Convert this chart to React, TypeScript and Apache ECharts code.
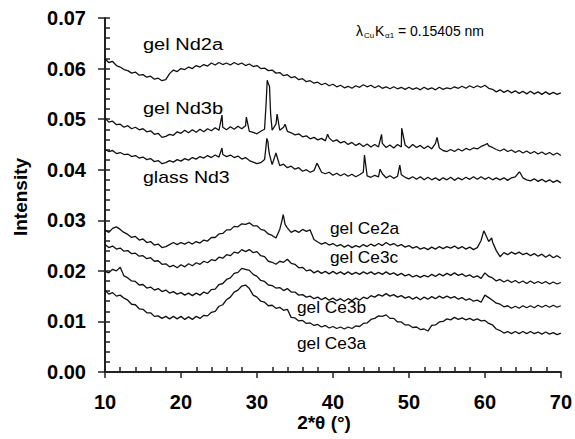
import React, { useEffect, useRef } from "react";
import * as echarts from "echarts";

const THETA_START = 10;
const THETA_STEP = 0.5;

const ND2A = [
  0.0619, 0.0612, 0.0614, 0.0606, 0.0603, 0.0598, 0.0596, 0.0591, 0.0593, 0.0587,
  0.0588, 0.0583, 0.0585, 0.0579, 0.0581, 0.0576, 0.0578, 0.0590, 0.0597, 0.0594,
  0.0600, 0.0598, 0.0603, 0.0600, 0.0606, 0.0603, 0.0608, 0.0605, 0.0611, 0.0607,
  0.0612, 0.0608, 0.0611, 0.0607, 0.0612, 0.0608, 0.0611, 0.0606, 0.0609, 0.0604,
  0.0606, 0.0600, 0.0601, 0.0596, 0.0597, 0.0591, 0.0592, 0.0586, 0.0588, 0.0582,
  0.0584, 0.0578, 0.0580, 0.0574, 0.0576, 0.0571, 0.0573, 0.0568, 0.0571, 0.0566,
  0.0569, 0.0564, 0.0567, 0.0562, 0.0565, 0.0561, 0.0566, 0.0563, 0.0568, 0.0564,
  0.0567, 0.0562, 0.0566, 0.0561, 0.0564, 0.0560, 0.0564, 0.0560, 0.0563, 0.0559,
  0.0563, 0.0559, 0.0562, 0.0558, 0.0563, 0.0559, 0.0562, 0.0558, 0.0563, 0.0559,
  0.0562, 0.0560, 0.0564, 0.0561, 0.0565, 0.0561, 0.0566, 0.0562, 0.0566, 0.0563,
  0.0567, 0.0561, 0.0559, 0.0554, 0.0558, 0.0553, 0.0557, 0.0552, 0.0556, 0.0551,
  0.0555, 0.0550, 0.0555, 0.0550, 0.0554, 0.0549, 0.0554, 0.0549, 0.0553, 0.0549,
  0.0552,
];

const ND3B = [
  0.0502, 0.0494, 0.0496, 0.0489, 0.0490, 0.0484, 0.0487, 0.0481, 0.0484, 0.0479,
  0.0481, 0.0475, 0.0477, 0.0470, 0.0472, 0.0464, 0.0466, 0.0470, 0.0468, 0.0475,
  0.0472, 0.0478, 0.0473, 0.0479, 0.0474, 0.0480, 0.0475, 0.0481, 0.0477, 0.0483,
  0.0478, 0.0484, 0.0479, 0.0485, 0.0480, 0.0486, 0.0481, 0.0487, 0.0476, 0.0474,
  0.0471, 0.0476, 0.0480, 0.0570, 0.0478, 0.0490, 0.0478, 0.0484, 0.0476, 0.0473,
  0.0469, 0.0471, 0.0465, 0.0467, 0.0461, 0.0464, 0.0459, 0.0462, 0.0457, 0.0463,
  0.0456, 0.0459, 0.0453, 0.0456, 0.0450, 0.0454, 0.0448, 0.0452, 0.0446, 0.0451,
  0.0445, 0.0450, 0.0445, 0.0452, 0.0444, 0.0449, 0.0443, 0.0450, 0.0445, 0.0449,
  0.0443, 0.0450, 0.0444, 0.0448, 0.0442, 0.0447, 0.0441, 0.0452, 0.0443, 0.0438,
  0.0436, 0.0440, 0.0436, 0.0441, 0.0437, 0.0442, 0.0439, 0.0443, 0.0441, 0.0446,
  0.0449, 0.0447, 0.0444, 0.0440, 0.0437, 0.0441, 0.0436, 0.0439, 0.0434, 0.0438,
  0.0433, 0.0437, 0.0432, 0.0436, 0.0431, 0.0435, 0.0430, 0.0434, 0.0429, 0.0433,
  0.0428,
];
const ND3B_PEAKS = [
  [25.4, 0.0508], [28.6, 0.0504], [31.2, 0.0530], [31.35, 0.0577], [31.65, 0.0565],
  [31.8, 0.051], [32.65, 0.051], [33.7, 0.049], [39.3, 0.047], [46.4, 0.047],
  [49.05, 0.0482], [53.7, 0.0464], [60.3, 0.0452],
];

const GLASS_ND3 = [
  0.0440, 0.0436, 0.0438, 0.0432, 0.0434, 0.0430, 0.0431, 0.0426, 0.0428, 0.0423,
  0.0425, 0.0420, 0.0422, 0.0416, 0.0418, 0.0412, 0.0414, 0.0418, 0.0415, 0.0420,
  0.0417, 0.0422, 0.0419, 0.0424, 0.0421, 0.0426, 0.0423, 0.0428, 0.0424, 0.0429,
  0.0425, 0.0430, 0.0426, 0.0429, 0.0424, 0.0427, 0.0421, 0.0424, 0.0418, 0.0415,
  0.0412, 0.0414, 0.0420, 0.0445, 0.0410, 0.0433, 0.0408, 0.0411, 0.0404, 0.0407,
  0.0401, 0.0404, 0.0397, 0.0400, 0.0395, 0.0398, 0.0410, 0.0395, 0.0392, 0.0395,
  0.0389, 0.0393, 0.0388, 0.0392, 0.0387, 0.0391, 0.0386, 0.0390, 0.0395, 0.0388,
  0.0385, 0.0389, 0.0386, 0.0392, 0.0384, 0.0388, 0.0383, 0.0387, 0.0390, 0.0385,
  0.0382, 0.0386, 0.0381, 0.0386, 0.0380, 0.0385, 0.0380, 0.0384, 0.0379, 0.0384,
  0.0380, 0.0385, 0.0379, 0.0384, 0.0380, 0.0385, 0.0381, 0.0386, 0.0381, 0.0386,
  0.0381, 0.0385, 0.0380, 0.0384, 0.0380, 0.0384, 0.0379, 0.0384, 0.0386, 0.0395,
  0.0384, 0.0380, 0.0378, 0.0382, 0.0377, 0.0381, 0.0376, 0.0380, 0.0375, 0.0379,
  0.0374,
];
const GLASS_ND3_PEAKS = [
  [25.4, 0.0443], [31.15, 0.044], [31.3, 0.0462], [31.45, 0.0455], [31.65, 0.043],
  [37.9, 0.0413], [44.15, 0.0429], [46.2, 0.0401], [48.8, 0.0409], [64.6, 0.0395],
];

const CE2A = [
  0.0281, 0.0276, 0.0284, 0.0287, 0.0282, 0.0276, 0.0272, 0.0266, 0.0268, 0.0261,
  0.0263, 0.0256, 0.0258, 0.0251, 0.0253, 0.0246, 0.0248, 0.0252, 0.0256, 0.0252,
  0.0256, 0.0253, 0.0257, 0.0253, 0.0258, 0.0255, 0.0261, 0.0259, 0.0266, 0.0266,
  0.0273, 0.0274, 0.0281, 0.0281, 0.0288, 0.0287, 0.0293, 0.0292, 0.0295, 0.0289,
  0.0289, 0.0282, 0.0280, 0.0273, 0.0270, 0.0265, 0.0282, 0.0308, 0.0285, 0.0276,
  0.0280, 0.0276, 0.0282, 0.0278, 0.0281, 0.0262, 0.0257, 0.0253, 0.0256, 0.0251,
  0.0254, 0.0249, 0.0252, 0.0247, 0.0251, 0.0246, 0.0250, 0.0247, 0.0252, 0.0248,
  0.0253, 0.0249, 0.0254, 0.0250, 0.0256, 0.0251, 0.0254, 0.0249, 0.0252, 0.0247,
  0.0250, 0.0245, 0.0248, 0.0243, 0.0246, 0.0242, 0.0247, 0.0243, 0.0248, 0.0244,
  0.0248, 0.0245, 0.0249, 0.0244, 0.0248, 0.0243, 0.0247, 0.0242, 0.0246, 0.0260,
  0.0275, 0.0258, 0.0257, 0.0240, 0.0228, 0.0236, 0.0232, 0.0237, 0.0233, 0.0237,
  0.0232, 0.0235, 0.0230, 0.0234, 0.0229, 0.0233, 0.0227, 0.0232, 0.0226, 0.0230,
  0.0225,
];
const CE2A_PEAKS = [
  [33.3, 0.03], [33.45, 0.0311], [33.7, 0.0292], [59.85, 0.0279], [60.9, 0.0265],
];

const CE3C = [
  0.0252, 0.0246, 0.0249, 0.0243, 0.0245, 0.0239, 0.0240, 0.0234, 0.0235, 0.0229,
  0.0230, 0.0224, 0.0226, 0.0219, 0.0220, 0.0213, 0.0214, 0.0208, 0.0211, 0.0206,
  0.0212, 0.0208, 0.0214, 0.0210, 0.0216, 0.0213, 0.0219, 0.0216, 0.0222, 0.0220,
  0.0227, 0.0225, 0.0232, 0.0230, 0.0237, 0.0235, 0.0242, 0.0238, 0.0242, 0.0236,
  0.0238, 0.0230, 0.0228, 0.0219, 0.0217, 0.0213, 0.0219, 0.0217, 0.0223, 0.0215,
  0.0213, 0.0206, 0.0207, 0.0200, 0.0202, 0.0196, 0.0200, 0.0195, 0.0199, 0.0194,
  0.0199, 0.0194, 0.0198, 0.0193, 0.0198, 0.0193, 0.0197, 0.0193, 0.0198, 0.0194,
  0.0198, 0.0193, 0.0197, 0.0193, 0.0198, 0.0193, 0.0196, 0.0191, 0.0195, 0.0190,
  0.0193, 0.0188, 0.0191, 0.0187, 0.0191, 0.0188, 0.0193, 0.0189, 0.0194, 0.0190,
  0.0195, 0.0191, 0.0196, 0.0191, 0.0194, 0.0189, 0.0192, 0.0187, 0.0190, 0.0185,
  0.0196, 0.0189, 0.0186, 0.0180, 0.0183, 0.0178, 0.0182, 0.0177, 0.0181, 0.0176,
  0.0180, 0.0175, 0.0180, 0.0175, 0.0179, 0.0175, 0.0179, 0.0174, 0.0178, 0.0174,
  0.0177,
];

const CE3B = [
  0.0199, 0.0196, 0.0203, 0.0200, 0.0207, 0.0190, 0.0186, 0.0180, 0.0179, 0.0172,
  0.0173, 0.0166, 0.0168, 0.0162, 0.0165, 0.0159, 0.0162, 0.0156, 0.0159, 0.0154,
  0.0157, 0.0152, 0.0156, 0.0151, 0.0156, 0.0152, 0.0158, 0.0155, 0.0163, 0.0164,
  0.0173, 0.0175, 0.0183, 0.0186, 0.0195, 0.0197, 0.0205, 0.0203, 0.0201, 0.0193,
  0.0189, 0.0181, 0.0179, 0.0172, 0.0171, 0.0166, 0.0167, 0.0161, 0.0165, 0.0158,
  0.0158, 0.0152, 0.0153, 0.0148, 0.0150, 0.0145, 0.0148, 0.0143, 0.0147, 0.0142,
  0.0146, 0.0141, 0.0145, 0.0140, 0.0145, 0.0141, 0.0146, 0.0142, 0.0148, 0.0145,
  0.0151, 0.0148, 0.0153, 0.0150, 0.0155, 0.0150, 0.0153, 0.0148, 0.0151, 0.0146,
  0.0149, 0.0144, 0.0148, 0.0143, 0.0148, 0.0144, 0.0149, 0.0145, 0.0150, 0.0146,
  0.0150, 0.0146, 0.0149, 0.0144, 0.0147, 0.0142, 0.0145, 0.0140, 0.0142, 0.0138,
  0.0152, 0.0147, 0.0142, 0.0136, 0.0134, 0.0129, 0.0131, 0.0126, 0.0130, 0.0126,
  0.0131, 0.0127, 0.0131, 0.0127, 0.0132, 0.0128, 0.0132, 0.0128, 0.0132, 0.0128,
  0.0131,
];

const CE3A = [
  0.0162, 0.0154, 0.0157, 0.0150, 0.0152, 0.0146, 0.0142, 0.0134, 0.0133, 0.0125,
  0.0124, 0.0117, 0.0117, 0.0110, 0.0111, 0.0106, 0.0110, 0.0105, 0.0110, 0.0105,
  0.0110, 0.0104, 0.0109, 0.0104, 0.0110, 0.0106, 0.0112, 0.0111, 0.0118, 0.0120,
  0.0130, 0.0133, 0.0143, 0.0148, 0.0158, 0.0162, 0.0170, 0.0172, 0.0165, 0.0152,
  0.0148, 0.0140, 0.0138, 0.0131, 0.0132, 0.0126, 0.0128, 0.0122, 0.0124, 0.0108,
  0.0107, 0.0101, 0.0102, 0.0096, 0.0097, 0.0092, 0.0094, 0.0089, 0.0092, 0.0087,
  0.0090, 0.0086, 0.0089, 0.0085, 0.0089, 0.0086, 0.0091, 0.0090, 0.0096, 0.0097,
  0.0104, 0.0106, 0.0111, 0.0110, 0.0113, 0.0106, 0.0106, 0.0099, 0.0099, 0.0093,
  0.0093, 0.0088, 0.0089, 0.0084, 0.0085, 0.0081, 0.0092, 0.0093, 0.0099, 0.0100,
  0.0105, 0.0103, 0.0108, 0.0104, 0.0107, 0.0103, 0.0106, 0.0102, 0.0105, 0.0101,
  0.0102, 0.0096, 0.0093, 0.0085, 0.0082, 0.0077, 0.0080, 0.0076, 0.0080, 0.0076,
  0.0080, 0.0076, 0.0080, 0.0076, 0.0079, 0.0075, 0.0079, 0.0075, 0.0078, 0.0074,
  0.0077,
];

const SERIES_NAMES = ["gel Nd2a", "gel Nd3b", "glass Nd3", "gel Ce2a", "gel Ce3c", "gel Ce3b", "gel Ce3a"];
const Y_TICKS = [0, 0.01, 0.02, 0.03, 0.04, 0.05, 0.06, 0.07];
const X_TICKS = [10, 20, 30, 40, 50, 60, 70];
const X_NAME = "2*θ (°)";
const Y_NAME = "Intensity";

function merge(base: number[], peaks: number[][] = []) {
  const pts = base.map((v, i) => [THETA_START + i * THETA_STEP, v]);
  peaks.forEach((p) => pts.push([p[0], p[1]]));
  pts.sort((a, b) => a[0] - b[0]);
  return pts;
}

const FONT = 'Arial, "Liberation Sans", Helvetica, sans-serif';

export default function App() {
  const ref = useRef<HTMLDivElement>(null);
  useEffect(() => {
    if (!ref.current) return;
    const chart = echarts.init(ref.current, undefined, { renderer: "svg" });
    const datasets = [
      merge(ND2A),
      merge(ND3B, ND3B_PEAKS),
      merge(GLASS_ND3, GLASS_ND3_PEAKS),
      merge(CE2A, CE2A_PEAKS),
      merge(CE3C),
      merge(CE3B),
      merge(CE3A),
    ];
    const gridRect = { left: 105, top: 18, width: 456.5, height: 354 };
    const xMin = X_TICKS[0], xMax = X_TICKS[X_TICKS.length - 1];
    const yMin = Y_TICKS[0], yMax = Y_TICKS[Y_TICKS.length - 1];
    const labelStyle = (text: string, x: number, y: number, sx: number) => ({
      type: "text",
      x,
      y,
      scaleX: sx,
      style: { text, fontSize: 16, fontFamily: FONT, fill: "#000", align: "left", verticalAlign: "middle" },
    });
    const small = (text: string, x: number, y: number, size: number) => ({
      type: "text",
      x,
      y,
      style: { text, fontSize: size, fontFamily: FONT, fill: "#000", align: "left", verticalAlign: "middle" },
    });
    const option: any = {
      animation: false,
      backgroundColor: "#fff",
      grid: [
        { ...gridRect, containLabel: false },
        { ...gridRect, containLabel: false },
      ],
      xAxis: [
        {
          type: "value", gridIndex: 0, min: xMin, max: xMax, interval: 10,
          axisLine: { show: true, lineStyle: { color: "#222", width: 2 } },
          axisTick: { show: true, length: 6, lineStyle: { color: "#222", width: 1.5 } },
          minorTick: { show: false },
          splitLine: { show: false },
          axisLabel: { fontSize: 20, fontWeight: "bold", color: "#000", margin: 20, fontFamily: FONT },
        },
        {
          type: "value", gridIndex: 1, min: xMin, max: xMax, interval: 10,
          axisLine: { show: false },
          axisTick: { show: false, inside: true },
          minorTick: { show: true, splitNumber: 5, length: 5, lineStyle: { color: "#222", width: 1.5 } },
          splitLine: { show: false },
          axisLabel: { show: false },
        },
      ],
      yAxis: [
        {
          type: "value", gridIndex: 0, min: yMin, max: yMax, interval: 0.01,
          axisLine: { show: true, lineStyle: { color: "#222", width: 2 } },
          axisTick: { show: true, length: 7, lineStyle: { color: "#222", width: 1.5 } },
          minorTick: { show: false },
          splitLine: { show: false },
          axisLabel: {
            fontSize: 20, fontWeight: "bold", color: "#000", margin: 19, fontFamily: FONT,
            formatter: (v: number) => v.toFixed(2),
          },
        },
        {
          type: "value", gridIndex: 1, min: yMin, max: yMax, interval: 0.01,
          axisLine: { show: false },
          axisTick: { show: true, inside: true, length: 5, lineStyle: { color: "#222", width: 1.5 } },
          minorTick: { show: true, splitNumber: 5, length: 5, lineStyle: { color: "#222", width: 1.5 } },
          splitLine: { show: false },
          axisLabel: { show: false },
        },
      ],
      series: datasets.map((d, i) => ({
        name: SERIES_NAMES[i],
        type: "line",
        xAxisIndex: 0,
        yAxisIndex: 0,
        data: d,
        symbol: "none",
        showSymbol: false,
        lineStyle: { color: "#111", width: 1.3 },
        silent: true,
      })),
      graphic: [
        labelStyle(SERIES_NAMES[0], 143, 45, 1.25),
        labelStyle(SERIES_NAMES[1], 143, 109, 1.25),
        labelStyle(SERIES_NAMES[2], 143, 178, 1.22),
        labelStyle(SERIES_NAMES[3], 330, 229, 1.08),
        labelStyle(SERIES_NAMES[4], 330, 258, 1.08),
        labelStyle(SERIES_NAMES[5], 297, 308, 1.08),
        labelStyle(SERIES_NAMES[6], 297, 344, 1.08),
        small("λ", 356, 31, 14),
        small("Cu", 364, 35, 8),
        small("K", 375, 31, 14),
        small("α1", 385, 35, 8),
        small("= 0.15405 nm", 398, 31, 14),
        { type: "text", x: 324, y: 422, style: { text: X_NAME, fontSize: 19, fontWeight: "bold", fontFamily: FONT, fill: "#000", align: "center", verticalAlign: "middle" } },
        { type: "text", x: 20, y: 197, rotation: Math.PI / 2, style: { text: Y_NAME, fontSize: 19, fontWeight: "bold", fontFamily: FONT, fill: "#000", align: "center", verticalAlign: "middle" } },
      ],
    };
    chart.setOption(option);
    return () => chart.dispose();
  }, []);
  return <div ref={ref} style={{ position: "absolute", left: 0, top: 0, width: 575, height: 439, background: "#fff" }} />;
}
